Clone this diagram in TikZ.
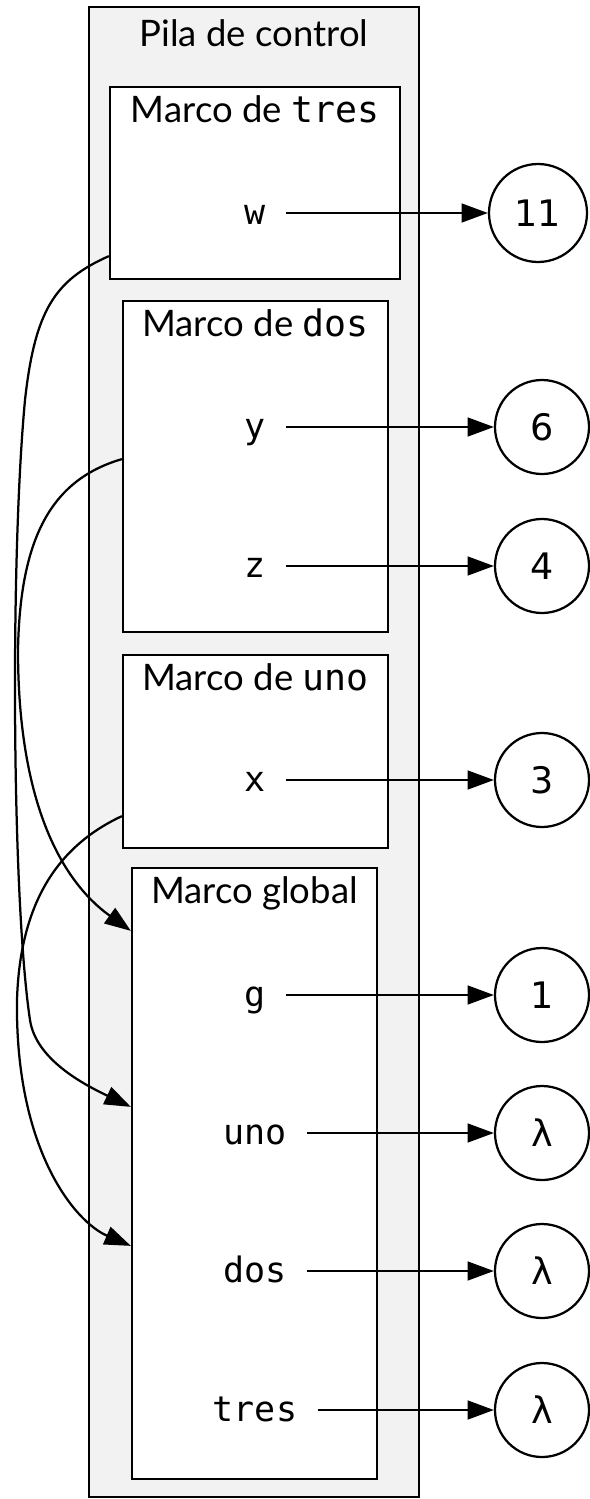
\documentclass[tikz,border=0pt]{standalone}
\usepackage{fontspec}
\setmainfont{Lato}
\setmonofont{DejaVu Sans Mono}
\newfontfamily\lamfont{DejaVu Sans}
\usetikzlibrary{arrows.meta,calc,fit}
\definecolor{fondo}{HTML}{F2F2F2}
\begin{document}
\begin{tikzpicture}[x=0.4pt, y=-0.4pt,
   every node/.style={font=\fontsize{14.6pt}{17pt}\selectfont},
   pila/.style={draw, line width=0.9pt, fill=fondo, inner sep=0pt},
   marco/.style={draw, line width=0.9pt, fill=white, inner sep=0pt},
   titulo/.style={anchor=base, inner sep=0pt},
   var/.style={font=\fontsize{14pt}{17pt}\selectfont\ttfamily, text height=8.8pt, text depth=0pt, inner xsep=8pt, inner ysep=0pt},
   valor/.style={circle, draw, line width=0.9pt, minimum size=37.6pt, inner sep=0pt, font=\fontsize{14.6pt}{17pt}\lamfont},
   liga/.style={line width=0.9pt, -{Triangle[length=10.5pt, width=7.5pt]}}]
   \useasboundingbox (0,0) rectangle (589,1499);
   % pila y marcos
   \node[pila, fit={(89,7) (419,1497)}] (pila) {};
   \node[titulo] (tpila) at ($(pila.north)+(0,41)$) {Pila de control};
   \node[marco, fit={(110,87) (400,279)}] (mtres) {};
   \node[titulo] (ttres) at ($(mtres.north)+(0,37)$) {Marco de \texttt{tres}};
   \node[marco, fit={(123,301) (388,632)}] (mdos) {};
   \node[titulo] (tdos) at ($(mdos.north)+(0,37)$) {Marco de \texttt{dos}};
   \node[marco, fit={(123,655) (388,848)}] (muno) {};
   \node[titulo] (tuno) at ($(muno.north)+(0,37)$) {Marco de \texttt{uno}};
   \node[marco, fit={(132,868) (377,1479)}] (mglobal) {};
   \node[titulo] (tglobal) at ($(mglobal.north)+(0,37)$) {Marco global};
   % variables
   \node[var] (vw) at (255,213) {w};
   \node[var] (vy) at (255,427) {y};
   \node[var] (vz) at (255,566) {z};
   \node[var] (vx) at (255,780) {x};
   \node[var] (vg) at (255,995) {g};
   \node[var] (vuno) at (255,1133) {uno};
   \node[var] (vdos) at (255,1271) {dos};
   \node[var] (vtres) at (255,1410) {tres};
   % valores
   \node[valor, minimum size=39.2pt] (c11) at (538,213) {11};
   \node[valor] (c6) at (542,427) {6};
   \node[valor] (c4) at (542,566) {4};
   \node[valor] (c3) at (542,780) {3};
   \node[valor] (c1) at (542,995) {1};
   \node[valor] (luno) at (542,1133) {λ};
   \node[valor] (ldos) at (542,1271) {λ};
   \node[valor] (ltres) at (542,1410) {λ};
   \draw[liga] (vw) -- (c11);
   \draw[liga] (vy) -- (c6);
   \draw[liga] (vz) -- (c4);
   \draw[liga] (vx) -- (c3);
   \draw[liga] (vg) -- (c1);
   \draw[liga] (vuno) -- (luno);
   \draw[liga] (vdos) -- (ldos);
   \draw[liga] (vtres) -- (ltres);
   % enlaces entre marcos
   \draw[liga] ($(mtres.south west)+(0,-24)$) .. controls (55,280) and (35,310) .. (25,400)
      .. controls (10,560) and (12,900) .. (30,1020)
      .. controls (36,1060) and (85,1085) .. ($(mglobal.north west)+(0,240)$);
   \draw[liga] ($(mdos.south west)+(0,-174)$) .. controls (50,480) and (20,540) .. (18,650)
      .. controls (18,800) and (60,880) .. ($(mglobal.north west)+(0,64)$);
   \draw[liga] ($(muno.south west)+(0,-33)$) .. controls (60,845) and (20,900) .. (17,1000)
      .. controls (15,1150) and (75,1222) .. ($(mglobal.north west)+(0,379)$);
\end{tikzpicture}
\end{document}
